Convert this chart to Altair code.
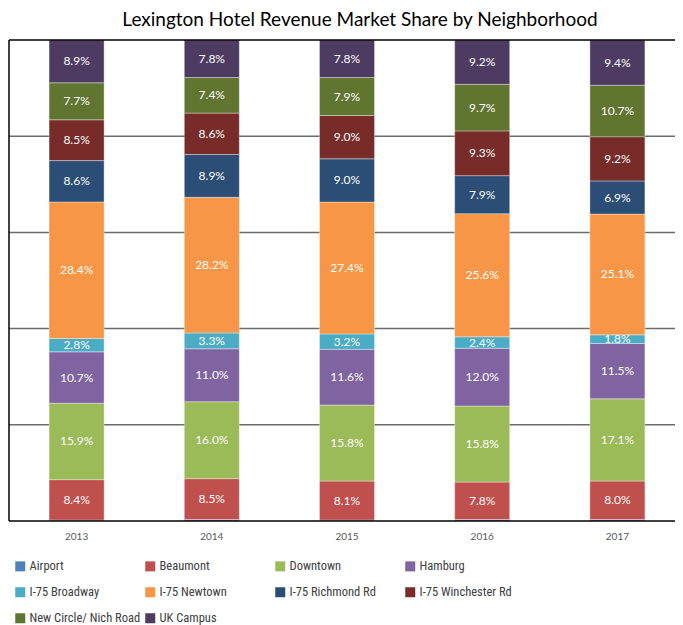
import altair as alt
import pandas as pd

years = ["2013", "2014", "2015", "2016", "2017"]
neighborhoods = ["Airport", "Beaumont", "Downtown", "Hamburg", "I-75 Broadway",
                 "I-75 Newtown", "I-75 Richmond Rd", "I-75 Winchester Rd",
                 "New Circle/ Nich Road", "UK Campus"]
colors = ["#4F81BD", "#C0504D", "#9BBB59", "#8064A2", "#4BACC6",
          "#F79646", "#2C4D75", "#772C2A", "#5F7530", "#4D3B62"]

airport = [0.2, 0.3, 0.2, 0.3, 0.3]
beaumont = [8.4, 8.5, 8.1, 7.8, 8.0]
downtown = [15.9, 16.0, 15.8, 15.8, 17.1]
hamburg = [10.7, 11.0, 11.6, 12.0, 11.5]
broadway = [2.8, 3.3, 3.2, 2.4, 1.8]
newtown = [28.4, 28.2, 27.4, 25.6, 25.1]
richmond = [8.6, 8.9, 9.0, 7.9, 6.9]
winchester = [8.5, 8.6, 9.0, 9.3, 9.2]
newcircle = [7.7, 7.4, 7.9, 9.7, 10.7]
ukcampus = [8.9, 7.8, 7.8, 9.2, 9.4]

grid_values = [0.2, 0.4, 0.6, 0.8]
frame_values = [0.0, 1.0]

series = [airport, beaumont, downtown, hamburg, broadway, newtown,
          richmond, winchester, newcircle, ukcampus]

rows = []
for idx, (name, vals) in enumerate(zip(neighborhoods, series)):
    for year, v in zip(years, vals):
        rows.append({"year": year, "hood": name, "idx": idx, "value": v,
                     "label": "" if name == "Airport" else f"{v:.1f}%"})
df = pd.DataFrame(rows)

FONT = "Lato"
LEGEND_FONT = "'Noto Sans Condensed', 'Roboto Condensed', Lato"

X_SCALE = alt.Scale(range=[0, 676], paddingInner=0.593, paddingOuter=0.2965)
Y_SCALE = alt.Scale(domain=[0, 1])

grid = alt.Chart(pd.DataFrame({"g": grid_values})).mark_rule(
    color="#6b6b6b", strokeWidth=1.5
).encode(y=alt.Y("g:Q", scale=Y_SCALE, axis=None, title=None))

base = alt.Chart(df).transform_stack(
    stack="value", as_=["y0", "y1"], groupby=["year"],
    sort=[alt.SortField("idx", order="ascending")], offset="normalize"
)

bars = base.mark_bar(stroke="white", strokeWidth=0.6, strokeOpacity=0.6).encode(
    x=alt.X("year:N", title=None, scale=X_SCALE, axis=None),
    y=alt.Y("y0:Q", title=None, scale=Y_SCALE, axis=None),
    y2="y1:Q",
    color=alt.Color("hood:N", title=None,
                    scale=alt.Scale(domain=neighborhoods, range=colors),
                    legend=alt.Legend(orient="none", legendX=5, legendY=520,
                                      columns=4, direction="horizontal",
                                      gridAlign="all", columnPadding=3, rowPadding=13,
                                      symbolType="square", symbolSize=100,
                                      symbolStrokeWidth=0, labelFont=LEGEND_FONT,
                                      labelFontSize=12.5, labelColor="#404040",
                                      labelOffset=3, labelLimit=200)),
)

labels = base.transform_calculate(mid="(datum.y0 + datum.y1) / 2").mark_text(
    color="white", font=FONT, fontSize=12
).encode(
    x=alt.X("year:N", title=None, scale=X_SCALE, axis=None),
    y=alt.Y("mid:Q", title=None, scale=Y_SCALE, axis=None),
    text="label:N",
)

frame = alt.Chart(pd.DataFrame({"f": frame_values})).mark_rule(
    color="#000000", strokeWidth=1.5
).encode(y=alt.Y("f:Q", scale=Y_SCALE, axis=None, title=None))

left_border = alt.Chart(pd.DataFrame({"f": [0]})).mark_rule(
    color="#000000", strokeWidth=1.5
).encode(x=alt.value(0), y=alt.value(0), y2=alt.value("height"))

xlabels = alt.Chart(pd.DataFrame({"year": years})).mark_text(
    font=FONT, fontSize=10, color="#595959", baseline="middle", dy=16
).encode(
    x=alt.X("year:N", title=None, scale=X_SCALE, axis=None),
    y=alt.value("height"),
    text="year:N",
)

chart = alt.layer(grid, bars, labels, frame, left_border, xlabels).properties(
    width=666, height=481,
    autosize=alt.AutoSizeParams(type="none"),
    padding={"left": 1, "top": 32, "right": 0, "bottom": 104},
    title=alt.TitleParams("Lexington Hotel Revenue Market Share by Neighborhood",
                          font=FONT, fontSize=19, fontWeight="normal", color="#000000",
                          anchor="middle", dx=18, offset=9),
).configure_view(strokeWidth=0, stroke="transparent")

chart.save("out.html", embed_options={"renderer": "svg", "actions": False})
